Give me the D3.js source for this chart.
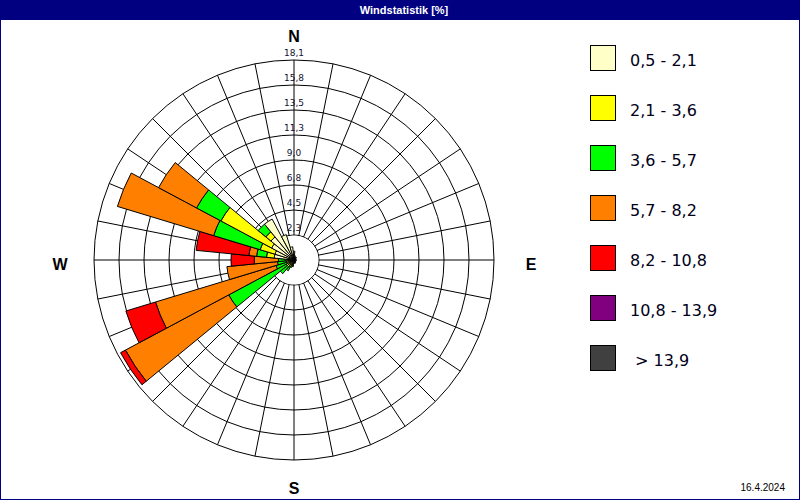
<!DOCTYPE html>
<html>
<head>
<meta charset="utf-8">
<script src="https://cdn.jsdelivr.net/npm/d3@7"></script>
<style>
  body { margin: 0; background: #fff; }
  svg { display: block; }
</style>
</head>
<body>
<svg id="chart" width="800" height="500"></svg>
<script>
// 32 sectors, compass degrees clockwise from N
const sectors = [0, 11.25, 22.5, 33.75, 45, 56.25, 67.5, 78.75, 90, 101.25, 112.5, 123.75,
  135, 146.25, 157.5, 168.75, 180, 191.25, 202.5, 213.75, 225, 236.25, 247.5, 258.75,
  270, 281.25, 292.5, 303.75, 315, 326.25, 337.5, 348.75];

// frequency [%] per speed class and sector
const cls1 = [0.8, 0.4, 0.3, 0.3, 0.3, 0.2, 0.2, 0.2, 0.2, 0.2, 0.2, 0.2, 0.2, 0.2, 0.3, 0.3,
  0.3, 0.4, 0.4, 0.5, 0.5, 0.5, 0.4, 0.4, 0.5, 1.8, 1.8, 2.3, 2.7, 4.2, 2.4, 1.2];
const cls2 = [0, 0, 0, 0, 0, 0, 0, 0, 0, 0, 0, 0, 0, 0, 0, 0,
  0, 0.1, 0.1, 0.2, 0.3, 0.3, 0.3, 0.3, 0.3, 0.7, 1.4, 5.2, 0.6, 0, 0, 0];
const cls3 = [0, 0, 0, 0, 0, 0, 0, 0, 0, 0, 0, 0, 0, 0, 0, 0,
  0, 0.1, 0.2, 0.4, 0.8, 5.9, 1.0, 0.8, 0.6, 0.9, 4.4, 2.5, 0.9, 0, 0, 0];
const cls4 = [0, 0, 0, 0, 0, 0, 0, 0, 0, 0, 0, 0, 0, 0, 0, 0,
  0, 0, 0, 0, 0, 10.6, 11.4, 4.6, 2.2, 0.7, 9.1, 3.9, 0, 0, 0, 0];
const cls5 = [0, 0, 0, 0, 0, 0, 0, 0, 0, 0, 0, 0, 0, 0, 0, 0,
  0, 0, 0, 0, 0, 0.5, 2.8, 0, 2.1, 4.8, 0, 0, 0, 0, 0, 0];
const cls6 = new Array(32).fill(0);
const cls7 = new Array(32).fill(0);

const classLabels = ["0,5 - 2,1", "2,1 - 3,6", "3,6 - 5,7", "5,7 - 8,2", "8,2 - 10,8", "10,8 - 13,9", " > 13,9"];
const classColors = ["#ffffc8", "#ffff00", "#00ff00", "#ff8000", "#ff0000", "#800080", "#404040"];
const ringLabels = ["2,3", "4,5", "6,8", "9,0", "11,3", "13,5", "15,8", "18,1"];
const maxValue = 18.1;

const svg = d3.select("#chart");
const cx = 294, cy = 260, R = 200;

// frame + title bar
svg.append("rect").attr("x", 0).attr("y", 0).attr("width", 800).attr("height", 500).attr("fill", "#fff");
svg.append("rect").attr("x", 0).attr("y", 0).attr("width", 800).attr("height", 20).attr("fill", "#000080");
svg.append("rect").attr("x", 0.5).attr("y", 0.5).attr("width", 799).attr("height", 499)
  .attr("fill", "none").attr("stroke", "#000080");
svg.append("text").attr("x", 404).attr("y", 14).attr("text-anchor", "middle")
  .attr("font-family", "Liberation Sans, Arial, sans-serif").attr("font-weight", "bold")
  .attr("font-size", 11).attr("fill", "#fff").text("Windstatistik [%]");

const rScale = d3.scaleLinear().domain([0, maxValue]).range([0, R]);
const ringValues = d3.range(1, 9).map(i => i * maxValue / 8);

const g = svg.append("g").attr("transform", `translate(${cx},${cy})`);

// grid
const grid = g.append("g").attr("stroke", "#000").attr("fill", "none").attr("stroke-width", 1);
grid.selectAll("circle").data(ringValues).join("circle").attr("r", d => rScale(d));
grid.selectAll("line").data(sectors).join("line")
  .attr("x1", 0).attr("y1", 0)
  .attr("x2", d => R * Math.sin(d * Math.PI / 180))
  .attr("y2", d => -R * Math.cos(d * Math.PI / 180));
g.append("circle").attr("r", rScale(ringValues[0]) - 0.5).attr("fill", "#fff");

// stacked bars
const classes = [cls1, cls2, cls3, cls4, cls5, cls6, cls7];
const half = 11.25 / 2 * Math.PI / 180;
const arc = d3.arc();
const segs = [];
sectors.forEach((dir, i) => {
  let acc = 0;
  classes.forEach((vals, c) => {
    const v = vals[i];
    if (v > 0) {
      segs.push({ dir, c, inner: acc, outer: acc + v });
      acc += v;
    }
  });
});
g.append("g").selectAll("path").data(segs).join("path")
  .attr("d", d => arc({
    innerRadius: rScale(d.inner), outerRadius: rScale(d.outer),
    startAngle: d.dir * Math.PI / 180 - half, endAngle: d.dir * Math.PI / 180 + half
  }))
  .attr("fill", d => classColors[d.c])
  .attr("stroke", "#000").attr("stroke-width", 1).attr("stroke-linejoin", "miter");

// ring labels on the north axis
g.append("g").selectAll("text").data(ringValues).join("text")
  .attr("x", 0).attr("y", d => -rScale(d) - 4)
  .attr("text-anchor", "middle")
  .attr("font-family", "DejaVu Sans, sans-serif").attr("font-size", 9)
  .attr("fill", "#101030")
  .text((d, i) => ringLabels[i]);

// compass letters (label, dx, dy of glyph centre)
const compass = [["N", 0, -224], ["E", 237, 4], ["S", 0, 228], ["W", -234, 4]];
g.append("g").selectAll("text").data(compass).join("text")
  .attr("x", d => d[1])
  .attr("y", d => d[2] + 6)
  .attr("text-anchor", "middle")
  .attr("font-family", "Liberation Sans, Arial, sans-serif").attr("font-weight", "bold")
  .attr("font-size", 16).attr("fill", "#000")
  .text(d => d[0]);

// legend
const leg = svg.append("g").attr("transform", "translate(590.5,45.5)");
const item = leg.selectAll("g").data(classLabels).join("g")
  .attr("transform", (d, i) => `translate(0,${i * 50})`);
item.append("rect").attr("width", 25).attr("height", 25)
  .attr("fill", (d, i) => classColors[i]).attr("stroke", "#000");
item.append("text").attr("x", 39.5).attr("y", 20)
  .style("white-space", "pre")
  .attr("font-family", "DejaVu Sans, sans-serif").attr("font-size", 16)
  .attr("fill", "#000018").text(d => d);

// date
svg.append("text").attr("x", 785).attr("y", 491).attr("text-anchor", "end")
  .attr("font-family", "Liberation Sans, Arial, sans-serif").attr("font-size", 10)
  .attr("fill", "#000").text("16.4.2024");
</script>
</body>
</html>
